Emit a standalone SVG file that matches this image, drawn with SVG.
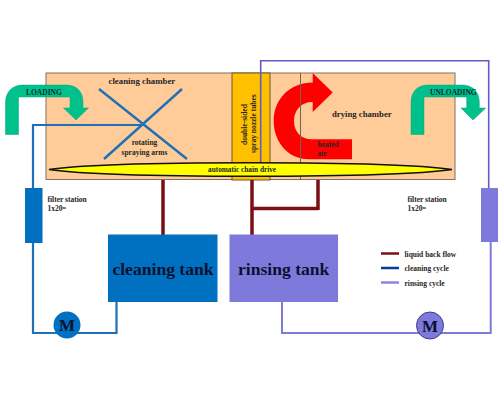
<svg xmlns="http://www.w3.org/2000/svg" width="500" height="400" viewBox="0 0 500 400">
<style>
text{font-family:"Liberation Serif","Times New Roman",serif;font-weight:bold;fill:#262626}
.s{font-size:7.5px}
.t{font-size:17.600px;fill:#0a1030;text-anchor:middle}
.m{font-size:17px;fill:#0a1030;text-anchor:middle}
.c{fill:none;stroke-linejoin:miter}
.back{stroke:#7c0f14;stroke-width:3.500}
.clean{stroke:#1f70b8;stroke-width:2.200}
.rinse{stroke:#7d7adb;stroke-width:2}
.rinse2{stroke:#5f5cc8;stroke-width:1.600}
.green{fill:#00c08c;stroke:#00a87c;stroke-width:.5}
</style>
<g id="chamber">
<rect x="46" y="73" width="409" height="106.500" fill="#ffcc99" stroke="#7f7060" stroke-width="1"/>
</g>
<g id="spray-nozzles">
<rect x="232" y="73" width="38" height="107" fill="#ffc000" stroke="#6b5a30" stroke-width="1"/>
<text class="s" transform="translate(246.500,145) rotate(-90)">double-sided</text>
<text class="s" transform="translate(255.500,153) rotate(-90)">spray nozzle tubes</text>
</g>
<g id="heated-air">
<path d="M312.700 73L332.700 92.500L312.700 112V102C301 102 294 110 294 121C294 132 301 139.300 312 139.300H352V159.300H309C288 159.300 273.700 142 273.700 121C273.700 99 290 82.500 312.700 82.500Z" fill="#ff0000"/>
<line x1="300.500" y1="73" x2="300.500" y2="179.500" stroke="#7f5f50" stroke-width="1"/>
<text class="s" x="317.500" y="146.500">heated</text>
<text class="s" x="317.500" y="155.500">air</text>
</g>
<g id="connectors">
<path class="c back" d="M163 180V235"/>
<path class="c back" d="M252 180V235M252 208.500H318M318 180V210"/>
<path class="c clean" d="M143 125H33V188M33 243V333H116.500V302"/>
<path class="c clean" d="M99 89L187 159M182 89L104 159" style="stroke-width:2.400"/>
<path class="c rinse" d="M282 302V333H490.700V242"/>
<path class="c rinse2" d="M488.700 188V60.700H260.700V164"/>
</g>
<g id="chain-drive">
<path d="M49 169.500C110 160.500 390 160.500 452 169.500C390 178.500 110 178.500 49 169.500Z" fill="#ffff00" stroke="#111" stroke-width="1.700"/>
<text x="208" y="172" style="font-size:7.300px">automatic chain drive</text>
</g>
<g id="cleaning-chamber">
<text x="108.500" y="84" style="font-size:8.800px">cleaning chamber</text>
<text class="s" x="144.500" y="145" text-anchor="middle">rotating</text>
<text class="s" x="144.500" y="154.500" text-anchor="middle">spraying arms</text>
</g>
<g id="drying-chamber">
<text x="332" y="116.500" style="font-size:8.700px">drying chamber</text>
</g>
<g id="loading">
<path class="green" d="M5.500 134.500V103C5.500 92 12 85 23 85H66C77 85 83 92 83 102V108H88.500L76 120L63.500 108H70V97H18.500V134.500Z"/>
<text x="26" y="94.500" style="font-size:7.500px;fill:#0a3030">LOADING</text>
</g>
<g id="unloading">
<path class="green" d="M411 134.500V103C411 92 417 85 428 85H462C473 85 479.300 92 479.300 102V108H485.700L473 120L461 108H466.700V97H424V134.500Z"/>
<text x="430" y="94.500" style="font-size:7.500px;fill:#0a3030">UNLOADING</text>
</g>
<g id="filter-left">
<rect x="25" y="188" width="17.500" height="55" fill="#0070c0"/>
<text class="s" x="47.500" y="202">filter station</text>
<text class="s" x="47.500" y="211">1x20<tspan font-size="4" dy="-2.500">m</tspan></text>
</g>
<g id="filter-right">
<rect x="481" y="188" width="17" height="54" fill="#7d7adb"/>
<text class="s" x="407.500" y="202">filter station</text>
<text class="s" x="407.500" y="211">1x20<tspan font-size="4" dy="-2.500">m</tspan></text>
</g>
<g id="cleaning-tank">
<rect x="108" y="234.500" width="109.500" height="67.500" fill="#0070c0"/>
<text class="t" x="163" y="274.500">cleaning tank</text>
</g>
<g id="rinsing-tank">
<rect x="229.500" y="234.500" width="108.500" height="67.500" fill="#7d7adb"/>
<text class="t" x="283.700" y="274.500">rinsing tank</text>
</g>
<g id="motor-left">
<circle cx="67" cy="325" r="13.500" fill="#0070c0"/>
<text class="m" x="67" y="331">M</text>
</g>
<g id="motor-right">
<circle cx="430" cy="325.500" r="13.500" fill="#7d7adb" stroke="#3f3c90" stroke-width="1"/>
<text class="m" x="430" y="331.500">M</text>
</g>
<g id="legend">
<line x1="381" y1="253.500" x2="399" y2="253.500" stroke="#7c0f14" stroke-width="2.500"/>
<line x1="381" y1="268" x2="399" y2="268" stroke="#0a3a96" stroke-width="2.500"/>
<line x1="381" y1="282.500" x2="399" y2="282.500" stroke="#8a87dc" stroke-width="2.500"/>
<text class="s" x="404.500" y="256.500">liquid back flow</text>
<text class="s" x="404.500" y="271">cleaning cycle</text>
<text class="s" x="404.500" y="285.500">rinsing cycle</text>
</g>
</svg>
